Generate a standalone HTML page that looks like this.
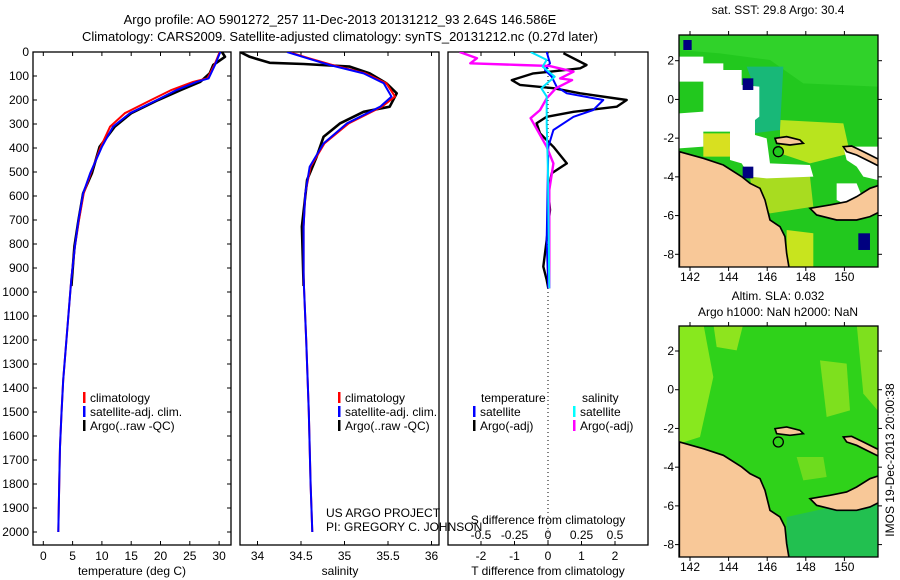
<!DOCTYPE html>
<html><head><meta charset="utf-8">
<style>
html,body{margin:0;padding:0;background:#fff;width:900px;height:580px;overflow:hidden;}
svg{display:block;font-family:"Liberation Sans",sans-serif;font-size:12px;overflow:hidden;}
</style></head>
<body>
<svg id="fig" width="900" height="580" viewBox="0 0 900 580">
<defs>
<clipPath id="cp1"><rect x="33" y="52" width="198" height="493"/></clipPath>
<clipPath id="cp2"><rect x="240" y="52" width="199" height="493"/></clipPath>
<clipPath id="cp3"><rect x="448" y="52" width="200" height="493"/></clipPath>
<clipPath id="cm1"><rect x="679" y="35" width="199" height="232"/></clipPath>
<clipPath id="cm2"><rect x="679" y="326" width="199" height="231"/></clipPath>
</defs>
<text x="340" y="24" text-anchor="middle" font-size="13">Argo profile: AO 5901272_257 11-Dec-2013 20131212_93 2.64S 146.586E</text>
<text x="340" y="41" text-anchor="middle" font-size="13">Climatology: CARS2009. Satellite-adjusted climatology: synTS_20131212.nc (0.27d later)</text>
<g id="axes"></g>
<g id="maps"></g>
</svg>
<script>
// ---- data ----
const tempDepth=[0,54,110,124,158,200,255,311,395,505,589,700,811,942,1367,1504,1645,1783,2000];
const tempSat=[30.2,29.3,28.2,26.2,22.8,19.4,14.8,11.9,10.0,8.0,6.8,6.0,5.4,4.8,3.4,3.1,2.85,2.73,2.56];
const tempClim=[30.1,29.2,28.0,25.6,21.9,18.4,13.9,11.4,9.8,8.1,6.9,6.1,5.4,4.8,3.4,3.1,2.85,2.73,2.56];
const argoDepth=[0,20,54,89,124,158,200,255,311,395,505,589,700,811,975];
const argoTemp=[30.5,31.0,29.0,28.4,26.8,23.5,19.6,15.0,12.2,9.6,8.3,6.8,6.0,5.3,4.8];
const salDepth=[0,26,54,89,130,186,228,297,381,478,589,728,942,1200,1500,1800,2000];
const salSat=[34.34,34.57,34.83,35.22,35.45,35.54,35.41,35.03,34.76,34.60,34.55,34.53,34.53,34.56,34.59,34.61,34.63];
const salClim=[34.36,34.59,34.86,35.24,35.48,35.58,35.43,35.05,34.77,34.61,34.55,34.53,34.53,34.56,34.59,34.61,34.63];
const argoSalDepth=[0,20,45,50,61,89,130,172,228,249,297,353,436,533,728,975];
const argoSal=[33.8,33.91,34.14,34.53,35.06,35.29,35.48,35.6,35.52,35.22,34.95,34.76,34.68,34.57,34.51,34.53];
const dtDepth=[5,54,68,82,89,117,137,151,172,200,228,249,270,297,339,395,464,505,575,658,783,894,950,985];
const dtArgo=[0.46,1.15,0.96,0.06,-0.44,-1.08,-0.84,0.16,0.96,2.35,2.05,0.76,-0.04,-0.34,-0.24,0.16,0.56,0.11,0.01,0.06,-0.04,-0.14,-0.04,0.01];
const dtSatDepth=[0,47,75,103,145,172,200,242,270,325,395,644,783,985];
const dtSat=[-0.04,0.06,-0.09,0.11,0.26,0.56,1.65,1.35,0.76,0.16,0.01,-0.02,-0.04,0.01];
const dsArgoDepth=[0,26,47,54,58,82,110,117,151,193,242,276,325,395,464,575,783,985];
const dsArgo=[-0.66,-0.53,-0.58,-0.21,0.01,0.19,0.09,0.18,0.06,-0.01,-0.06,-0.13,-0.08,-0.01,0.04,0.01,0.01,0.01];
const dsSatDepth=[0,33,61,103,151,186,297,505,985];
const dsSat=[-0.13,-0.01,-0.04,0.05,-0.05,-0.01,-0.01,0.0,0.01];
const depthTicks=[0,100,200,300,400,500,600,700,800,900,1000,1100,1200,1300,1400,1500,1600,1700,1800,1900,2000];
const tempTicks=[0,5,10,15,20,25,30];
const salTicks=[34,34.5,35,35.5,36];
const salTickLabels=["34","34.5","35","35.5","36"];
const dtTicks=[-2,-1,0,1,2];
const dsTicks=[-0.5,-0.25,0,0.25,0.5];
const dsTickLabels=["-0.5","-0.25","0","0.25","0.5"];

const NS="http://www.w3.org/2000/svg";
const ax=document.getElementById('axes');
function mk(tag,attrs,parent,txt){const e=document.createElementNS(NS,tag);for(const k in attrs)e.setAttribute(k,attrs[k]);if(txt!==undefined)e.textContent=txt;(parent||ax).appendChild(e);return e;}
const yD=d=>52+d*0.24;
const xT=t=>43.3+t*5.86;
const xS=s=>257.5+(s-34)*87;
const xDT=v=>548+v*33.5;
const xDS=v=>548+v*134;

const panels=[[33,231],[240,439],[448,648]];
panels.forEach((p,i)=>{
  const r=mk('rect',{x:p[0],y:52,width:p[1]-p[0],height:493,fill:'none',stroke:'#000','stroke-width':1.3});
  
  
});
depthTicks.forEach(d=>{
  const y=yD(d);
  [[33,37],[227,231]].forEach(s=>{mk('line',{x1:s[0],x2:s[1],y1:y,y2:y,stroke:'#000'});});
  const t=mk('text',{x:29,y:y+4,'text-anchor':'end'},ax,String(d));
  
  
});
function xticks(vals,labels,fx,y0,ylab){
  vals.forEach((v,i)=>{const x=fx(v);
    mk('line',{x1:x,x2:x,y1:545,y2:541,stroke:'#000'});
    mk('line',{x1:x,x2:x,y1:52,y2:56,stroke:'#000'});
    const t=mk('text',{x:x,y:ylab,'text-anchor':'middle'},ax,labels[i]);
    
    
  });
}
xticks(tempTicks,tempTicks.map(String),xT,545,560);
xticks(salTicks,salTickLabels,xS,545,560);
xticks(dtTicks,dtTicks.map(String),xDT,545,560);
dsTicks.forEach((v,i)=>{const t=mk('text',{x:xDS(v),y:539,'text-anchor':'middle'},ax,dsTickLabels[i]);
  });
[['temperature (deg C)',132,'x-axis-title-temperature'],['salinity',340,'x-axis-title-salinity'],['T difference from climatology',548,'x-axis-title-t-diff']].forEach(a=>{
  const t=mk('text',{x:a[1],y:575,'text-anchor':'middle'},ax,a[0]);
  });
const sd=mk('text',{x:548,y:524,'text-anchor':'middle'},ax,'S difference from climatology');

mk('line',{x1:548,x2:548,y1:52,y2:545,stroke:'#000','stroke-dasharray':'1,3'});

function series(xs,ds,fx,color,w,clip,name){
  const pts=xs.map((v,i)=>fx(v).toFixed(1)+','+yD(ds[i]).toFixed(1)).join(' ');
  const e=mk('polyline',{points:pts,fill:'none',stroke:color,'stroke-width':w,'clip-path':'url(#'+clip+')','stroke-linejoin':'round'});
  
  
}
series(argoTemp,argoDepth,xT,'#000',2.6,'cp1','argo-temperature-line');
series(tempClim,tempDepth,xT,'#ff0000',2,'cp1','climatology-temperature-line');
series(tempSat,tempDepth,xT,'#0000ff',2,'cp1','satellite-temperature-line');
series(argoSal,argoSalDepth,xS,'#000',2.6,'cp2','argo-salinity-line');
series(salClim,salDepth,xS,'#ff0000',2,'cp2','climatology-salinity-line');
series(salSat,salDepth,xS,'#0000ff',2,'cp2','satellite-salinity-line');
series(dtArgo,dtDepth,xDT,'#000',2.4,'cp3','argo-t-diff-line');
series(dtSat,dtSatDepth,xDT,'#0000ff',2,'cp3','satellite-t-diff-line');
series(dsArgo,dsArgoDepth,xDS,'#ff00ff',2.4,'cp3','argo-s-diff-line');
series(dsSat,dsSatDepth,xDS,'#00e5ff',2,'cp3','satellite-s-diff-line');

function legend(x,y,color,label){
  mk('rect',{x:x,y:y-10,width:2.5,height:11,fill:color});
  const t=mk('text',{x:x+7,y:y},ax,label);
  
  
}
[[83,'#ff0000','climatology',402],[83,'#0000ff','satellite-adj. clim.',416],[83,'#000','Argo(..raw -QC)',430],
 [338,'#ff0000','climatology',402],[338,'#0000ff','satellite-adj. clim.',416],[338,'#000','Argo(..raw -QC)',430],
 [473,'#0000ff','satellite',416],[473,'#000','Argo(-adj)',430],[573,'#00ffff','satellite',416],[573,'#ff00ff','Argo(-adj)',430]]
 .forEach(a=>legend(a[0],a[3],a[1],a[2]));
mk('text',{x:481,y:402},ax,'temperature');
mk('text',{x:582,y:402},ax,'salinity');
const c1=mk('text',{x:326,y:517},ax,'US ARGO PROJECT');
const c2=mk('text',{x:326,y:531},ax,'PI: GREGORY C. JOHNSON');

// ---- maps ----
const mp=document.getElementById('maps');
const land=[
"28,395 100,415 160,435 215,470 240,490 270,505 285,540 300,600 330,620 345,650 350,700 360,760 360,790 28,790",
"420,565 480,555 530,545 560,530 600,505 630,495 630,575 600,590 560,600 500,600 440,585",
"520,380 545,378 580,395 610,410 630,420 630,440 600,425 560,405 530,395",
"315,355 350,350 390,360 400,370 360,375 320,370"];
function drawMap(ox,oy,dy,clip,which,name){
  const g=mk('g',{'clip-path':'url(#'+clip+')'},mp);
  
  
  const inner=mk('g',{transform:'translate('+ox+','+oy+') scale(0.3333) translate(0,'+dy+')'},g);
  if(which===1){
    mk('rect',{x:28,y:40,width:600,height:740,fill:'#22c81e'},inner);
    mk('polygon',{points:"28,40 623,40 623,200 400,190 300,120 150,100 28,90",fill:'#30d22a'},inner);
    mk('polygon',{points:"330,300 520,310 540,400 420,430 330,400",fill:'#b8e41e'},inner);
    mk('polygon',{points:"240,470 420,470 430,560 300,580 250,540",fill:'#a8dc20'},inner);
    mk('polygon',{points:"350,630 430,640 430,740 350,740",fill:'#c8e41e'},inner);
    mk('polygon',{points:"100,340 180,340 180,410 100,410",fill:'#d8e020'},inner);
    mk('polygon',{points:"230,140 340,140 330,330 250,340 260,220",fill:'#18b878'},inner);
    mk('polygon',{points:"28,110 100,110 100,130 160,130 160,150 215,150 215,195 268,200 268,290 255,300 255,345 290,355 300,430 420,435 430,470 290,475 240,470 215,430 180,420 180,335 100,335 100,380 28,385 28,280 100,275 100,185 28,185",fill:'#fff'},inner);
    mk('polygon',{points:"520,380 623,380 623,480 580,470 560,440 530,420",fill:'#fff'},inner);
    mk('polygon',{points:"500,490 560,490 580,540 540,560 500,540",fill:'#fff'},inner);
    mk('rect',{x:218,y:175,width:32,height:35,fill:'#000080'},inner);
    mk('rect',{x:218,y:440,width:32,height:35,fill:'#000080'},inner);
    mk('rect',{x:565,y:640,width:35,height:50,fill:'#000080'},inner);
    mk('rect',{x:40,y:60,width:25,height:30,fill:'#000080'},inner);
  } else {
    mk('rect',{x:28,y:40,width:600,height:750,fill:'#2fd21a'},inner);
    mk('polygon',{points:"28,40 100,40 130,200 90,380 28,400",fill:'#88e81e'},inner);
    mk('polygon',{points:"130,40 220,40 200,120 140,110",fill:'#8ee41e'},inner);
    mk('polygon',{points:"450,150 530,160 540,300 470,320",fill:'#7ee01e'},inner);
    mk('polygon',{points:"560,40 623,40 623,300 580,250",fill:'#7ee01e'},inner);
    mk('polygon',{points:"380,440 460,440 470,500 400,510",fill:'#6edc1e'},inner);
    mk('polygon',{points:"350,620 623,560 623,760 350,760",fill:'#22c050'},inner);
  }
  land.forEach(p=>{const l=mk('polygon',{points:p,fill:'#f8c898',stroke:'#000','stroke-width':5},inner);
    });
  mk('circle',{cx:325,cy:395,r:15,fill:which===1?'#22c81e':'none',stroke:'#000','stroke-width':4},inner);
}
drawMap(670,20,0,'cm1',1,'sst-map');
drawMap(670,290,61,'cm2',2,'sla-map');
const lonT=[142,144,146,148,150];
const latT=[2,0,-2,-4,-6,-8];
[[35,267,60.7,1],[326,557,351,2]].forEach(m=>{
  mk('rect',{x:679,y:m[0],width:199,height:m[1]-m[0],fill:'none',stroke:'#000','stroke-width':1.3},mp);
  lonT.forEach(l=>{const x=690+(l-142)*19.3;
    mk('line',{x1:x,x2:x,y1:m[1],y2:m[1]+4,stroke:'#000'},mp);
    mk('line',{x1:x,x2:x,y1:m[0],y2:m[0]-4,stroke:'#000'},mp);
    const t=mk('text',{x:x,y:m[1]+14,'text-anchor':'middle'},mp,String(l));
    });
  latT.forEach(l=>{const y=m[2]+(2-l)*19.36;
    mk('line',{x1:679,x2:675,y1:y,y2:y,stroke:'#000'},mp);
    mk('line',{x1:878,x2:882,y1:y,y2:y,stroke:'#000'},mp);
    const t=mk('text',{x:674,y:y+4,'text-anchor':'end'},mp,String(l));
    });
});
const mt=[['sat. SST: 29.8 Argo: 30.4',778,14,'sst-map-title'],['Altim. SLA: 0.032',778,300,'sla-map-title'],['Argo h1000: NaN h2000: NaN',778,316,'sla-map-subtitle']];
mt.forEach(a=>{const t=mk('text',{x:a[1],y:a[2],'text-anchor':'middle'},mp,a[0]);});
const v=mk('text',{x:0,y:0,transform:'translate(894,460) rotate(-90)','text-anchor':'middle'},mp,'IMOS 19-Dec-2013 20:00:38');

</script>
</body></html>
